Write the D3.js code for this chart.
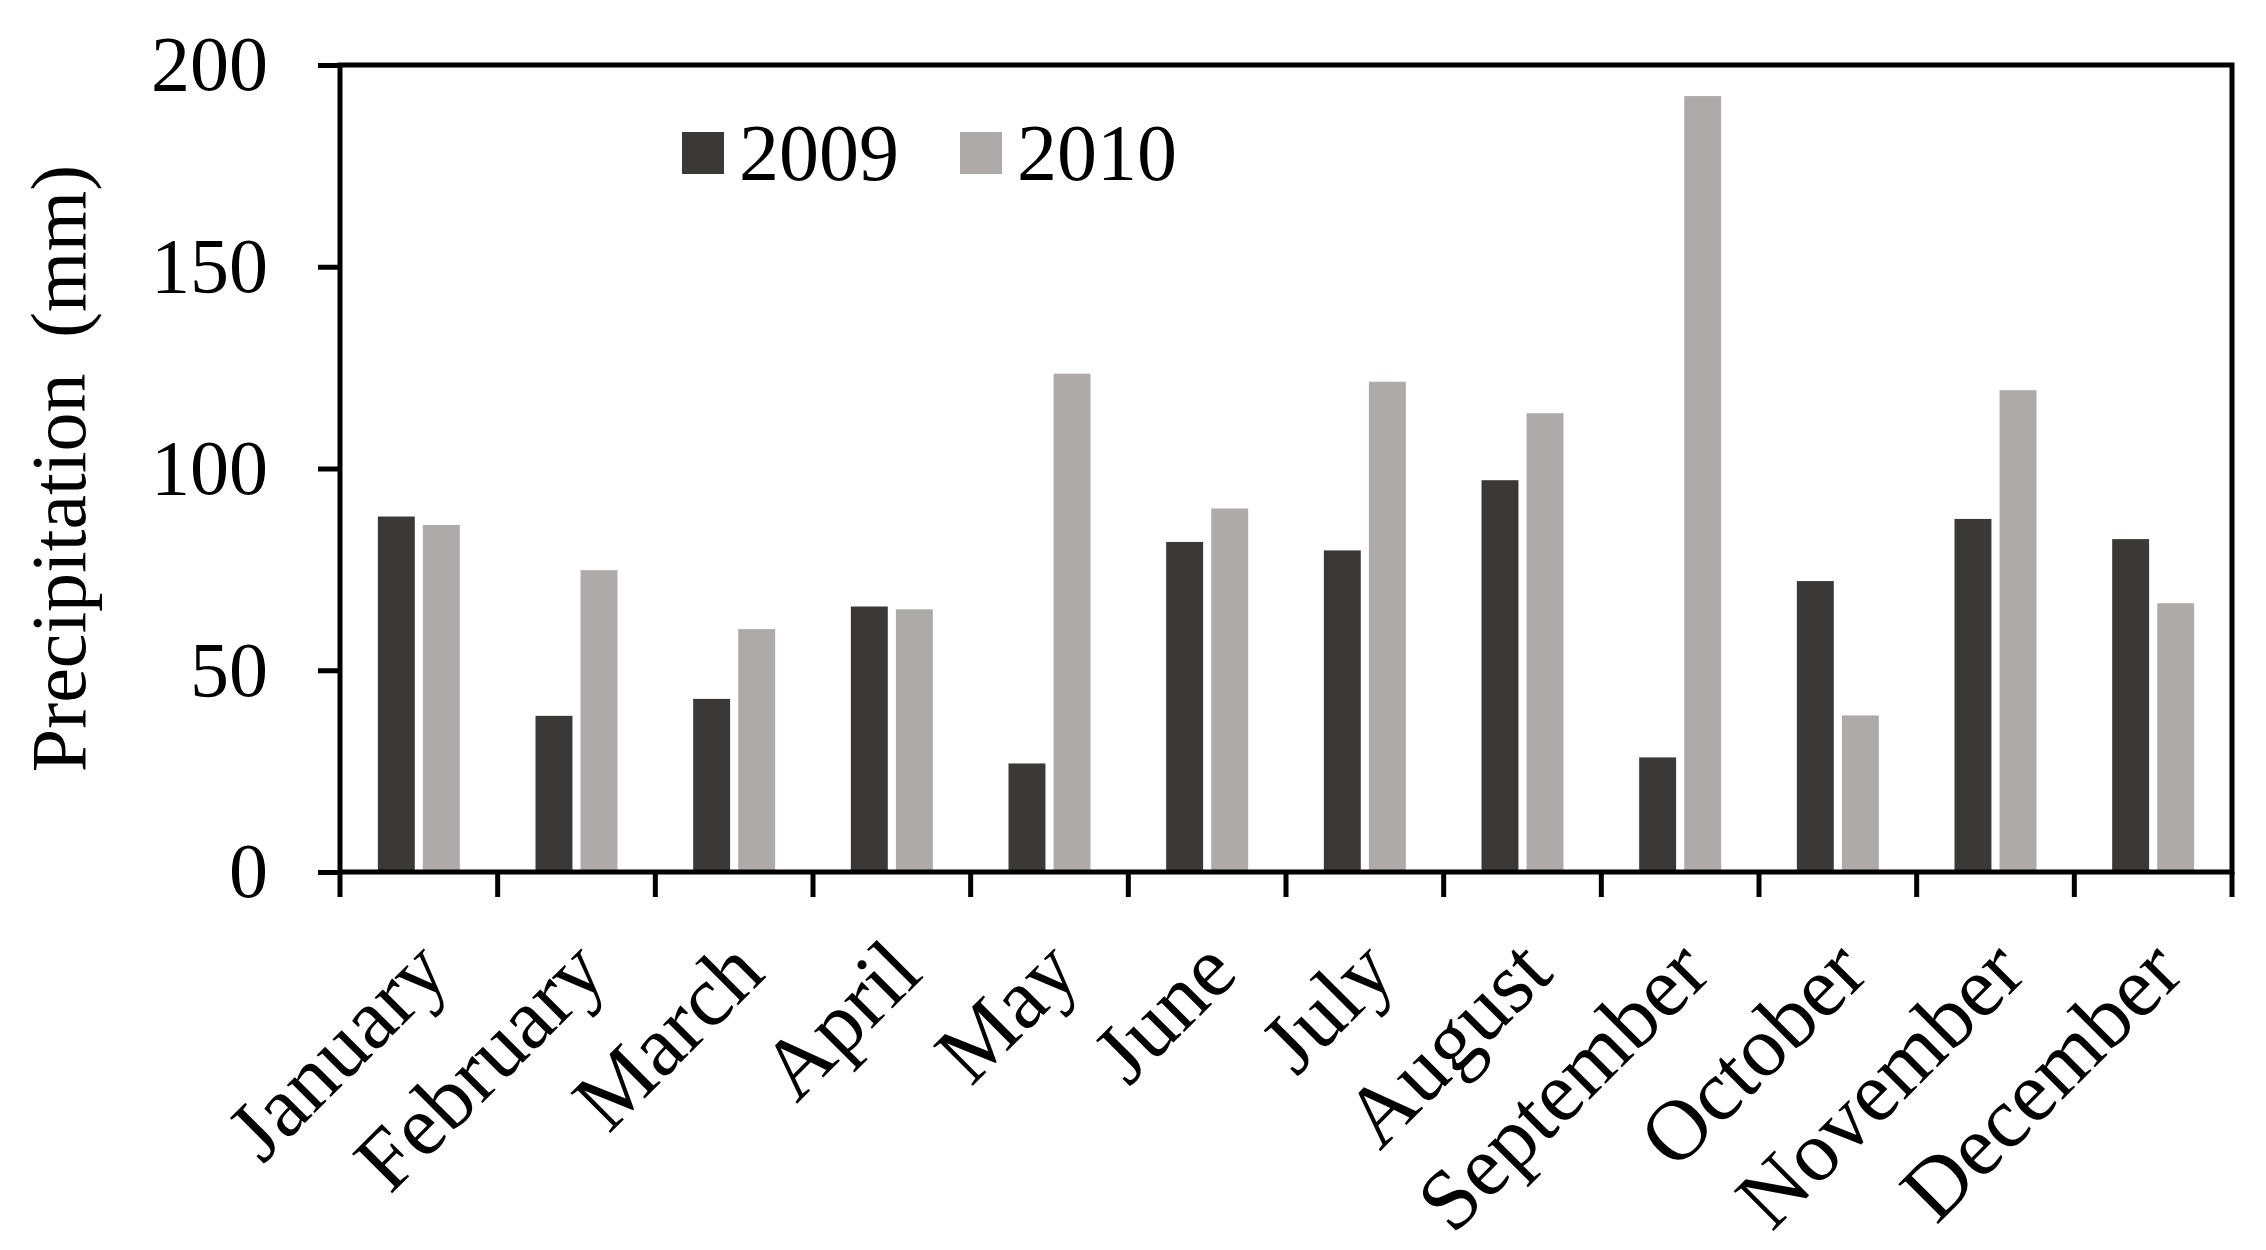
<!DOCTYPE html>
<html>
<head>
<meta charset="utf-8">
<script src="https://cdn.jsdelivr.net/npm/d3@7"></script>
<style>
  body { margin: 0; background: #fff; }
  text { font-family: "Liberation Serif", "Times New Roman", serif; fill: #000; }
</style>
</head>
<body>
<div id="chart"></div>
<script>
// data
var months = ["January", "February", "March", "April", "May", "June",
  "July", "August", "September", "October", "November", "December"];
var years = ["2009", "2010"];
var precip2009 = [88.1, 38.7, 42.9, 65.8, 26.9, 81.8, 79.7, 97.1, 28.4, 72.1, 87.5, 82.5];
var precip2010 = [86.0, 74.8, 60.2, 65.1, 123.5, 90.1, 121.5, 113.7, 192.3, 38.8, 119.4, 66.6];
var yTicks = [0, 50, 100, 150, 200];

var colors = { "2009": "#3a3938", "2010": "#adaaa9" };

var W = 2266, H = 1250;
var margin = { top: 65, right: 34, bottom: 378, left: 340 },
  width = W - margin.left - margin.right,
  height = H - margin.top - margin.bottom;

var svg = d3.select("#chart")
  .append("svg")
  .attr("width", W)
  .attr("height", H);

var g = svg.append("g")
  .attr("transform", "translate(" + margin.left + "," + margin.top + ")");

// scales
var x0 = d3.scaleBand()
  .domain(months)
  .range([0, width])
  .paddingInner(0.48)
  .paddingOuter(0.24);

var x1 = d3.scaleBand()
  .domain(years)
  .range([0, x0.bandwidth()])
  .paddingInner(0.18);

var y = d3.scaleLinear()
  .domain([0, 200])
  .range([height, 0]);

var rows = months.map(function(m, i) {
  return { month: m, values: [
    { year: "2009", value: precip2009[i] },
    { year: "2010", value: precip2010[i] }
  ]};
});

// bars
var groups = g.selectAll(".month")
  .data(rows)
  .enter()
  .append("g")
  .attr("class", "month")
  .attr("transform", function(d) { return "translate(" + x0(d.month) + ",0)"; });

groups.selectAll("rect")
  .data(function(d) { return d.values; })
  .enter()
  .append("rect")
  .attr("x", function(d) { return x1(d.year); })
  .attr("y", function(d) { return y(d.value); })
  .attr("width", x1.bandwidth())
  .attr("height", function(d) { return height - y(d.value); })
  .style("fill", function(d) { return colors[d.year]; });

// frame
g.append("rect")
  .attr("width", width)
  .attr("height", height)
  .style("fill", "none")
  .style("stroke", "#000")
  .style("stroke-width", 5);

// y axis
var yAxis = g.append("g")
  .call(d3.axisLeft(y).tickValues(yTicks).tickSize(22).tickPadding(50));
yAxis.select(".domain").remove();
yAxis.selectAll(".tick line").style("stroke", "#000").style("stroke-width", 5);
yAxis.selectAll(".tick text")
  .style("font-size", "78px")
  .attr("dy", "0.32em");

// x axis ticks on category boundaries
var step = x0.step();
var bounds = d3.range(months.length + 1);
g.selectAll(".xtick")
  .data(bounds)
  .enter()
  .append("line")
  .attr("class", "xtick")
  .attr("x1", function(i) { return i * step; })
  .attr("x2", function(i) { return i * step; })
  .attr("y1", height)
  .attr("y2", height + 25)
  .style("stroke", "#000")
  .style("stroke-width", 5);

// month labels, rotated
g.selectAll(".xlabel")
  .data(months)
  .enter()
  .append("text")
  .attr("class", "xlabel")
  .attr("text-anchor", "end")
  .style("font-size", "86px")
  .attr("transform", function(d) {
    var cx = x0(d) + x0.bandwidth() / 2 + 33;
    return "translate(" + cx + "," + (height + 104) + ") rotate(-45)";
  })
  .text(function(d) { return d; });

// y title
svg.append("text")
  .attr("transform", "translate(85," + (margin.top + height / 2) + ") rotate(-90)")
  .attr("text-anchor", "middle")
  .style("font-size", "78px")
  .style("word-spacing", "16px")
  .text("Precipitation (mm)");

// legend
var legendX = [682, 960];
var legend = svg.selectAll(".legend-item")
  .data(years)
  .enter()
  .append("g")
  .attr("class", "legend-item")
  .attr("transform", function(d, i) { return "translate(" + legendX[i] + ",132)"; });

legend.append("rect")
  .attr("width", 42)
  .attr("height", 42)
  .style("fill", function(d) { return colors[d]; });

legend.append("text")
  .attr("x", 57)
  .attr("y", 48)
  .style("font-size", "80px")
  .text(function(d) { return d; });
</script>
</body>
</html>
